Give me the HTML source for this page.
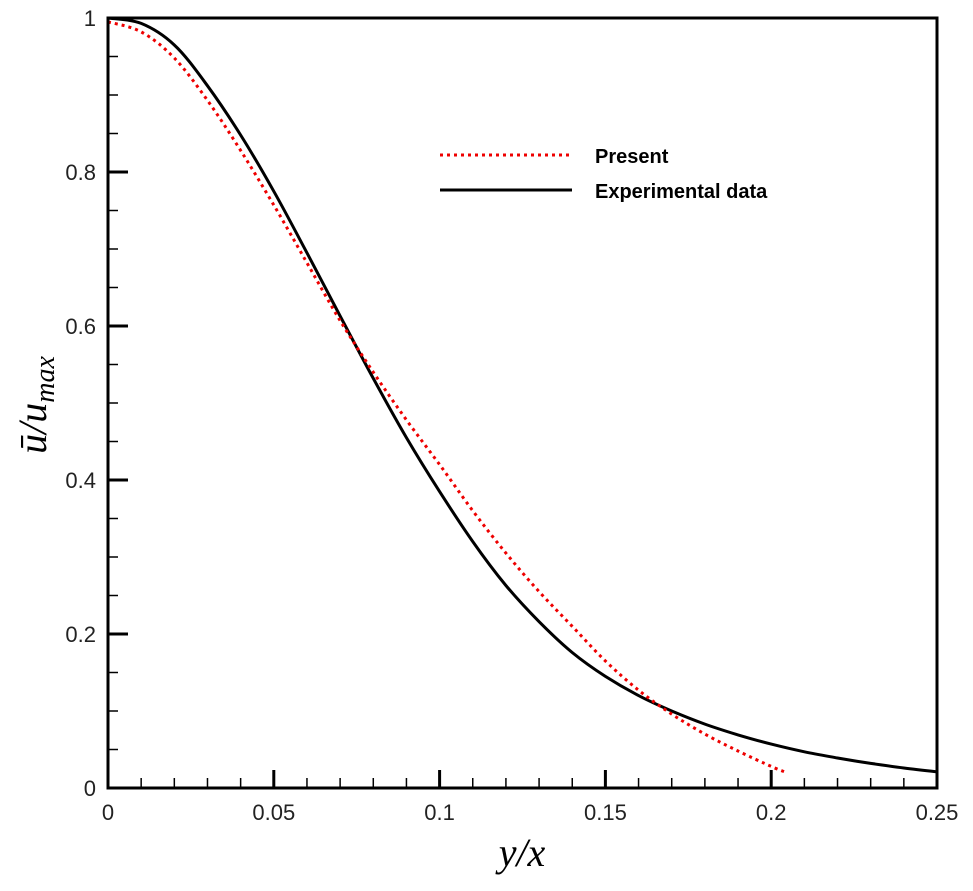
<!DOCTYPE html>
<html><head><meta charset="utf-8"><style>
body{margin:0;background:#fff}
svg{display:block;font-family:"Liberation Sans",sans-serif}
</style></head><body>
<svg id="chart" width="973" height="891" viewBox="0 0 973 891" xmlns="http://www.w3.org/2000/svg">
<g id="ticks"></g>
<g id="series"></g>
<rect x="108" y="18" width="829" height="770" fill="none" stroke="#000" stroke-width="3"/>
<g>
<line x1="440" y1="155" x2="572" y2="155" stroke="#e00" stroke-width="3" stroke-dasharray="3,4"/>
<text x="595" y="163" font-size="20" font-weight="bold">Present</text>
<line x1="440" y1="190" x2="572" y2="190" stroke="#000" stroke-width="3"/>
<text x="595" y="198" font-size="20" font-weight="bold">Experimental data</text>
</g>
<text x="522" y="866" font-size="40" font-style="italic" font-family="Liberation Serif,serif" text-anchor="middle">y/x</text>
<text transform="translate(46,405) rotate(-90)" font-size="40" font-style="italic" font-family="Liberation Serif,serif" text-anchor="middle">ū/u<tspan font-size="28" dy="8">max</tspan></text>
</svg>
<script>
const xTicks=[0,0.05,0.1,0.15,0.2,0.25];
const xTickLabels=["0","0.05","0.1","0.15","0.2","0.25"];
const yTicks=[0,0.2,0.4,0.6,0.8,1];
const yTickLabels=["0","0.2","0.4","0.6","0.8","1"];
const expX=[0,0.01,0.02,0.03,0.04,0.05,0.06,0.07,0.08,0.09,0.1,0.11,0.12,0.13,0.14,0.15,0.16,0.17,0.18,0.19,0.2,0.21,0.22,0.23,0.24,0.25];
const expY=[1,0.993,0.965,0.912,0.848,0.775,0.695,0.613,0.532,0.455,0.385,0.32,0.263,0.216,0.176,0.145,0.12,0.1,0.083,0.069,0.057,0.047,0.039,0.032,0.026,0.021];
const presX=[0,0.01,0.02,0.03,0.04,0.05,0.06,0.07,0.08,0.09,0.1,0.11,0.12,0.13,0.14,0.15,0.16,0.17,0.18,0.19,0.2,0.204];
const presY=[0.995,0.982,0.948,0.893,0.828,0.757,0.682,0.607,0.54,0.478,0.42,0.36,0.305,0.255,0.21,0.165,0.127,0.096,0.07,0.048,0.028,0.021];
const X0=108,X1=937,Y0=788,Y1=18;
function sx(v){return X0+(v-0)/(0.25)*(X1-X0);}
function sy(v){return Y0-(v-0)/1*(Y0-Y1);}
const NS="http://www.w3.org/2000/svg";
const tg=document.getElementById('ticks');
function ln(x1,y1,x2,y2,w,name){const l=document.createElementNS(NS,'line');
l.setAttribute('x1',x1);l.setAttribute('y1',y1);l.setAttribute('x2',x2);l.setAttribute('y2',y2);
l.setAttribute('stroke','#000');l.setAttribute('stroke-width',w);


tg.appendChild(l);}
function tx(x,y,s,anchor,name){const t=document.createElementNS(NS,'text');
t.setAttribute('x',x);t.setAttribute('y',y);t.setAttribute('font-size','22');t.setAttribute('fill','#222');t.setAttribute('text-anchor',anchor);t.textContent=s;


tg.appendChild(t);}
for(let i=0;i<=25;i++){const v=i*0.01;const major=i%5===0;ln(sx(v),Y0,sx(v),Y0-(major?18:10),major?3:1.5,major?'x-major-tick':'x-minor-tick');}
for(let i=0;i<=20;i++){const v=i*0.05;const major=i%4===0;ln(X0,sy(v),X0+(major?20:10),sy(v),major?3:1.5,major?'y-major-tick':'y-minor-tick');}
xTicks.forEach((v,i)=>tx(sx(v),820,xTickLabels[i],'middle','x-tick-label'));
yTicks.forEach((v,i)=>tx(96,sy(v)+8,yTickLabels[i],'end','y-tick-label'));
const sg=document.getElementById('series');
function smoothD(xs,ys){const P=xs.map((x,i)=>[sx(x),sy(ys[i])]);let d='M'+P[0][0].toFixed(1)+','+P[0][1].toFixed(1);
for(let i=0;i<P.length-1;i++){const p0=P[Math.max(i-1,0)],p1=P[i],p2=P[i+1],p3=P[Math.min(i+2,P.length-1)];
const c1=[p1[0]+(p2[0]-p0[0])/6,p1[1]+(p2[1]-p0[1])/6],c2=[p2[0]-(p3[0]-p1[0])/6,p2[1]-(p3[1]-p1[1])/6];
d+='C'+c1.map(v=>v.toFixed(1)).join(',')+' '+c2.map(v=>v.toFixed(1)).join(',')+' '+p2[0].toFixed(1)+','+p2[1].toFixed(1);}
return d;}
function path(xs,ys,color,dash,name){const p=document.createElementNS(NS,'path');
p.setAttribute('d',smoothD(xs,ys));
p.setAttribute('fill','none');p.setAttribute('stroke',color);p.setAttribute('stroke-width','3');
if(dash)p.setAttribute('stroke-dasharray',dash);


sg.appendChild(p);}
path(expX,expY,'#000',null,'experimental-data-line');
path(presX,presY,'#e00','3,4','present-line');
</script>
</body></html>
